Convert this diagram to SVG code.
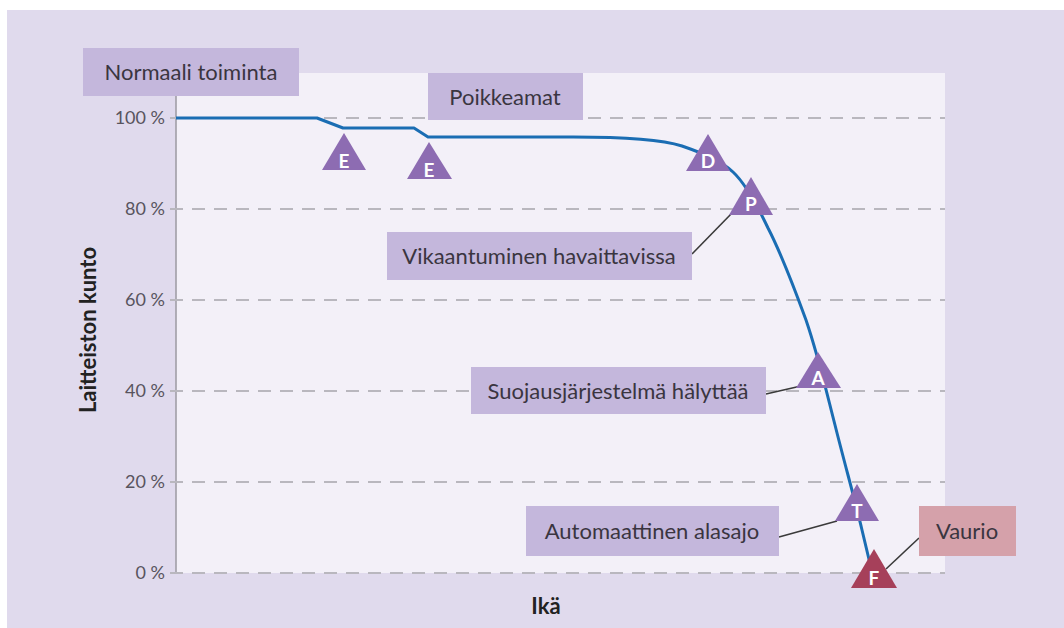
<svg xmlns="http://www.w3.org/2000/svg" width="1064" height="628" viewBox="0 0 1064 628">
<style>
.lbl{font-family:Lato,"Open Sans","Liberation Sans",sans-serif;font-size:22px;fill:#3a3540}
.tick{font-family:Lato,"Open Sans","Liberation Sans",sans-serif;font-size:18px;fill:#58545e;text-anchor:end}
.ttl{font-family:Lato,"Open Sans","Liberation Sans",sans-serif;font-size:22px;font-weight:700;fill:#222}
.box{fill:#c4b7dc}
.tri{fill:#8d6cb2}
.tl{font-family:Lato,"Open Sans","Liberation Sans",sans-serif;font-size:19px;font-weight:700;fill:#fff;text-anchor:middle}
.grid{stroke:#b9b7be;stroke-width:2;stroke-dasharray:13 9;fill:none}
.lead{stroke:#3a3a3a;stroke-width:1.6;fill:none}
</style>
<rect x="0" y="0" width="1064" height="628" fill="#ffffff"/>
<rect x="7" y="10" width="1057" height="618" fill="#e0daed"/>
<rect x="176" y="73" width="769" height="500" fill="#f3f0f8"/>
<g id="axes">
<line x1="176" y1="96" x2="176" y2="573" stroke="#a09ea6" stroke-width="1.6"/>
<path class="grid" d="M170,118H945M170,209H945M170,300H945M170,391H945M170,482H945M170,573H945"/>
<text class="tick" x="165" y="124">100 %</text>
<text class="tick" x="165" y="215">80 %</text>
<text class="tick" x="165" y="306">60 %</text>
<text class="tick" x="165" y="397">40 %</text>
<text class="tick" x="165" y="488">20 %</text>
<text class="tick" x="165" y="579">0 %</text>
<text class="ttl" transform="translate(96,330) rotate(-90)" text-anchor="middle">Laitteiston kunto</text>
<text class="ttl" x="546" y="614" text-anchor="middle">Ikä</text>
</g>
<g id="curve">
<path d="M176,118 L317,118 L343,128 L414,128 L428,137 L573,137 C620,137 660,139 682,146 C702,153 720,160 733,172 C745,183 757,205 768,228 C782,255 795,290 806,320 C818,355 826,390 835,425 C845,465 855,500 862,530 L872,572" fill="none" stroke="#1a6db3" stroke-width="3" stroke-linejoin="round"/>
</g>
<g id="connectors">
<line class="lead" x1="692" y1="254" x2="733" y2="212"/>
<line class="lead" x1="766" y1="394" x2="801" y2="386"/>
<line class="lead" x1="779" y1="537" x2="837" y2="521"/>
<line class="lead" x1="919" y1="538" x2="886" y2="569"/>
</g>
<g id="normaali"><rect class="box" x="83" y="48" width="216" height="48"/><text class="lbl" x="191" y="80" text-anchor="middle">Normaali toiminta</text></g>
<g id="poikkeamat"><rect class="box" x="428" y="73" width="155" height="47"/><text class="lbl" x="505" y="105" text-anchor="middle">Poikkeamat</text></g>
<g id="vikaantuminen"><rect class="box" x="387" y="232" width="305" height="48"/><text class="lbl" x="539" y="264" text-anchor="middle">Vikaantuminen havaittavissa</text></g>
<g id="suojaus"><rect class="box" x="471" y="367" width="295" height="47"/><text class="lbl" x="618" y="399" text-anchor="middle">Suojausjärjestelmä hälyttää</text></g>
<g id="alasajo"><rect class="box" x="526" y="506" width="253" height="50"/><text class="lbl" x="652" y="539" text-anchor="middle">Automaattinen alasajo</text></g>
<g id="vaurio"><rect x="919" y="506" width="97" height="50" fill="#d5a1aa"/><text class="lbl" x="967" y="539" text-anchor="middle">Vaurio</text></g>
<g id="E1"><polygon class="tri" points="344,133 366,170 322,170"/><text class="tl" x="344" y="168">E</text></g>
<g id="E2"><polygon class="tri" points="429,142 452,179 407,179"/><text class="tl" x="429" y="177">E</text></g>
<g id="D"><polygon class="tri" points="708,134 730,171 686,171"/><text class="tl" x="708" y="168">D</text></g>
<g id="P"><polygon class="tri" points="751,177 773,215 729,215"/><text class="tl" x="751" y="211">P</text></g>
<g id="A"><polygon class="tri" points="818,352 841,388 796,388"/><text class="tl" x="818" y="385">A</text></g>
<g id="T"><polygon class="tri" points="857,484 879,521 835,521"/><text class="tl" x="857" y="518">T</text></g>
<g id="F"><polygon points="874,549 897,588 851,588" fill="#a6405a"/><text class="tl" x="874" y="585">F</text></g>
</svg>
